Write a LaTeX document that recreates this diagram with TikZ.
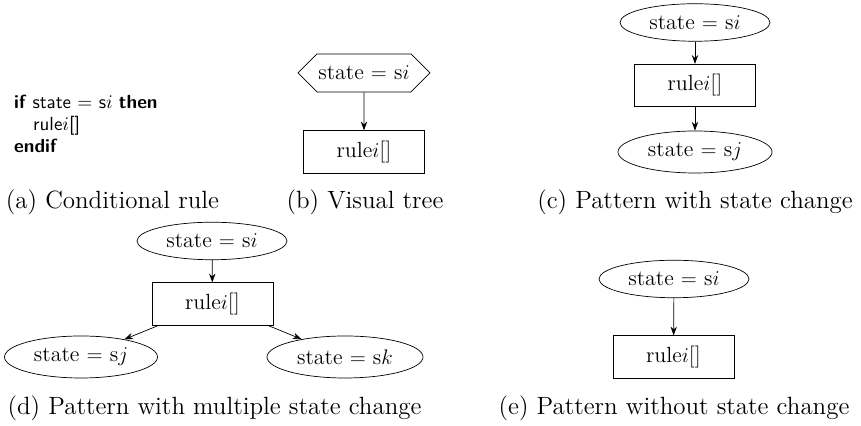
\documentclass[tikz,border=0pt]{standalone}
\usepackage{tikz}
\usetikzlibrary{arrows.meta}
\usetikzlibrary{shapes.geometric,shapes.symbols}
\usetikzlibrary{positioning}

\begin{document}
\begin{tikzpicture}[
		>={Stealth[length=5pt,width=3.6pt]},
		stateell/.style={draw, ellipse, inner sep=0pt, minimum width=3cm, minimum height=0.75cm, font=\fontsize{12.5}{15}\selectfont},
		rulebox/.style={draw, rectangle, inner sep=0pt, minimum width=2.42cm, minimum height=0.85cm, font=\fontsize{12.5}{15}\selectfont},
		condhex/.style={draw, signal, signal to=east and west, signal pointer angle=90, inner sep=0pt, minimum width=2.64cm, minimum height=0.76cm, font=\fontsize{12.5}{15}\selectfont},
		caption/.style={font=\fontsize{14.2}{17}\selectfont}
	]
		\useasboundingbox (0,0) rectangle (17.22,8.52);

		% (a) the rule as text
		\node[anchor=west, align=left, font=\fontsize{10.8}{12.3}\selectfont\sffamily] (Code) at (0.16,6.04) {\textbf{if} state $=$ s$i$ \textbf{then}\\
			\hspace{1em}rule$i$[]\\
			\textbf{endif}};
		\node[caption] (CapA) at (2.25,4.48) {(a) Conditional rule};

		% (b) hexagon test and its rule
		\node[condhex] (HexTest) at (7.28,7.06) {state $=$ s$i$};
		\node[rulebox] (HexRule) at (7.28,5.48) {rule$i$[]};
		\draw [->] (HexTest) -- (HexRule);
		\node[caption] (CapB) at (7.3,4.48) {(b) Visual tree};

		% (c) one state change
		\node[stateell] (CSi) at (13.9,8.07) {state $=$ s$i$};
		\node[rulebox] (CRule) at (13.9,6.81) {rule$i$[]};
		\node[stateell, minimum width=3.08cm, minimum height=0.84cm] (CSj) at (13.9,5.48) {state $=$ s$j$};
		\draw [->] (CSi) -- (CRule);
		\draw [->] (CRule) -- (CSj);
		\node[caption] (CapC) at (13.9,4.48) {(c) Pattern with state change};

		% (d) two possible state changes
		\node[stateell] (DSi) at (4.24,3.7) {state $=$ s$i$};
		\node[rulebox] (DRule) at (4.25,2.44) {rule$i$[]};
		\node[stateell, minimum width=3.06cm, minimum height=0.84cm] (DSj) at (1.62,1.38) {state $=$ s$j$};
		\node[stateell, minimum width=3.12cm, minimum height=0.84cm] (DSk) at (6.9,1.38) {state $=$ s$k$};
		\draw [->] (DSi) -- (DRule);
		\draw [->] ([xshift=0.13cm]DRule.south west) -- (DSj);
		\draw [->] ([xshift=-0.1cm]DRule.south east) -- (DSk);
		\node[caption] (CapD) at (4.29,0.36) {(d) Pattern with multiple state change};

		% (e) no state change
		\node[stateell] (ESi) at (13.48,2.94) {state $=$ s$i$};
		\node[rulebox] (ERule) at (13.47,1.38) {rule$i$[]};
		\draw [->] (ESi) -- (ERule);
		\node[caption] (CapE) at (13.48,0.36) {(e) Pattern without state change};
	\end{tikzpicture}
\end{document}
